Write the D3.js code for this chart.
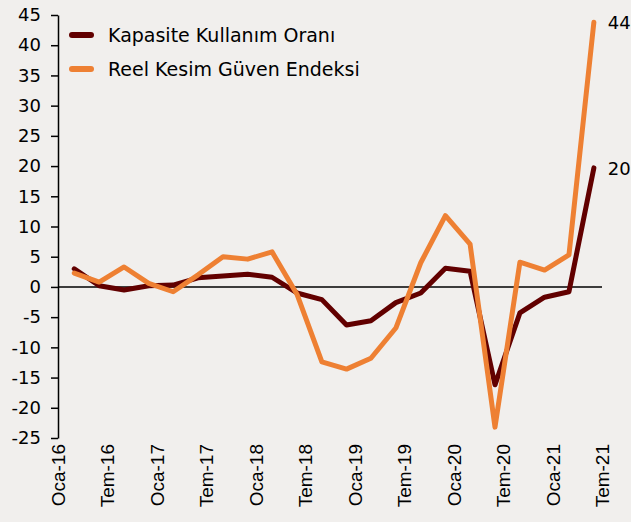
<!DOCTYPE html>
<html>
<head>
<meta charset="utf-8">
<script src="https://cdn.jsdelivr.net/npm/d3@7"></script>
<style>
  body { margin: 0; background: #f1efed; }
  svg { display: block; }
  .tick-y { font-family: "DejaVu Sans", sans-serif; font-size: 18px; fill: #000; }
  .tick-x { font-family: "Liberation Sans", Arial, sans-serif; font-size: 19px; fill: #000; }
  .legend { font-family: "DejaVu Sans", sans-serif; font-size: 19px; fill: #000; }
</style>
</head>
<body>
<script>
"use strict";

var width = 631, height = 522;

// quarterly readings (Mar, Haz, Eyl, Ara) from Mar-16 to Haz-21
var quarterMonths = [2, 5, 8, 11];
var startYear = 2016;
var kapasite = [3.0, 0.2, -0.5, 0.2, 0.3, 1.5, 1.8, 2.1, 1.6, -1.0, -2.1, -6.3,
                -5.6, -2.6, -1.0, 3.1, 2.6, -16.2, -4.3, -1.7, -0.8, 19.7];
var reelKesim = [2.3, 0.8, 3.3, 0.6, -0.8, 2.0, 5.0, 4.6, 5.8, -1.2, -12.4, -13.6,
                 -11.8, -6.8, 4.0, 11.8, 7.1, -23.2, 4.1, 2.8, 5.3, 43.8];
var seriesNames = ["Kapasite Kullanım Oranı", "Reel Kesim Güven Endeksi"];
var seriesColors = ["#620000", "#ee8033"];
var endLabels = ["20", "44"];
var xTickLabels = ["Oca-16", "Tem-16", "Oca-17", "Tem-17", "Oca-18", "Tem-18",
                   "Oca-19", "Tem-19", "Oca-20", "Tem-20", "Oca-21", "Tem-21"];
var yTicks = [-25, -20, -15, -10, -5, 0, 5, 10, 15, 20, 25, 30, 35, 40, 45];

var dates = kapasite.map(function(d, i) {
  return new Date(startYear + Math.floor(i / 4), quarterMonths[i % 4], 1);
});
var tickDates = xTickLabels.map(function(d, i) {
  return new Date(startYear + Math.floor(i / 2), (i % 2) * 6, 1);
});

var x = d3.scaleTime()
  .domain([new Date(2016, 0, 1), new Date(2021, 6, 1)])
  .range([58, 602]);
var y = d3.scaleLinear()
  .domain([-25, 45])
  .range([438, 15]);

var svg = d3.select("body")
  .append("svg")
  .attr("width", width)
  .attr("height", height);

// y axis (plain hyphen for negatives, like the original)
var yAxis = svg.append("g")
  .attr("transform", "translate(58,0)")
  .call(d3.axisLeft(y)
    .tickValues(yTicks)
    .tickFormat(function(d) { return String(d); })
    .tickSize(7)
    .tickPadding(10)
    .tickSizeOuter(0));
yAxis.select(".domain").attr("stroke", "#000").attr("stroke-width", 1.5);
yAxis.selectAll(".tick line").attr("stroke", "#000").attr("stroke-width", 1.5);
yAxis.selectAll(".tick text").attr("class", "tick-y").attr("font-family", null).attr("font-size", null);

// zero line
svg.append("line")
  .attr("x1", x.range()[0])
  .attr("x2", x.range()[1])
  .attr("y1", y(0))
  .attr("y2", y(0))
  .attr("stroke", "#000")
  .attr("stroke-width", 1.5);

// x labels, rotated
svg.selectAll(".tick-x")
  .data(tickDates)
  .enter()
  .append("text")
  .attr("class", "tick-x")
  .attr("text-anchor", "end")
  .attr("transform", function(d) { return "translate(" + (x(d) + 7) + ",444) rotate(-90)"; })
  .text(function(d, i) { return xTickLabels[i]; });

// lines
var line = d3.line()
  .x(function(d) { return x(d.date); })
  .y(function(d) { return y(d.value); });

[kapasite, reelKesim].forEach(function(values, s) {
  var pts = values.map(function(v, i) { return { date: dates[i], value: v }; });
  svg.append("path")
    .datum(pts)
    .attr("fill", "none")
    .attr("stroke", seriesColors[s])
    .attr("stroke-width", 5)
    .attr("stroke-linejoin", "round")
    .attr("stroke-linecap", "round")
    .attr("d", line);

  var last = pts[pts.length - 1];
  svg.append("text")
    .attr("class", "tick-y")
    .attr("x", x(last.date) + 14)
    .attr("y", y(last.value) + 7)
    .text(endLabels[s]);
});

// legend
seriesNames.forEach(function(name, i) {
  var ly = 35 + i * 34;
  svg.append("line")
    .attr("x1", 72).attr("x2", 91)
    .attr("y1", ly).attr("y2", ly)
    .attr("stroke", seriesColors[i])
    .attr("stroke-width", 6)
    .attr("stroke-linecap", "round");
  svg.append("text")
    .attr("class", "legend")
    .attr("x", 108)
    .attr("y", ly + 7)
    .text(name);
});
</script>
</body>
</html>
